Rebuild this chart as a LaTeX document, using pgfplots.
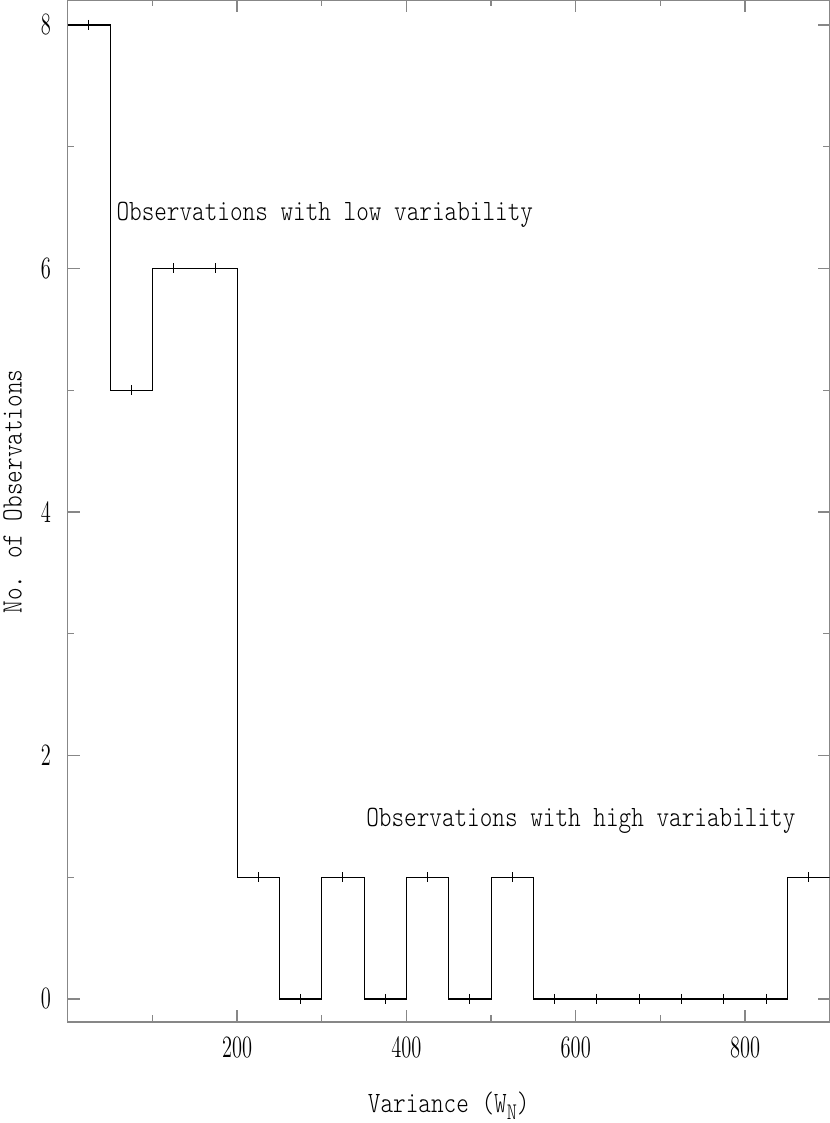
\documentclass[border=0pt]{standalone}
\usepackage{fontspec}
\usepackage{pgfplots}
\pgfplotsset{compat=1.18}
\setmainfont{Latin Modern Mono Light}[FakeStretch=0.815]
\newfontfamily\tickfont{Latin Modern Roman}[FakeStretch=0.66]
\definecolor{framegray}{RGB}{135,135,135}

\newcommand\lblfont{\fontsize{11.8}{13}\selectfont}

\begin{document}
\begin{tikzpicture}
\begin{axis}[
  scale only axis,
  width=304.8pt, height=408.8pt,
  xmin=0, xmax=900,
  ymin=-0.189, ymax=8.205,
  xtick={200,400,600,800},
  minor xtick={100,300,500,700},
  ytick={0,2,4,6,8},
  minor ytick={1,3,5,7},
  tick align=inside,
  major tick length=4.8pt,
  minor tick length=2.6pt,
  tick style={draw=framegray, line width=0.5pt},
  axis line style={draw=framegray, line width=0.6pt},
  /pgf/number format/assume math mode=true,
  tick label style={font=\fontsize{12.4}{13}\tickfont},
  yticklabel style={xshift=-3.2pt},
  xticklabel style={yshift=-2.4pt},
  xlabel={Variance (W\raisebox{-3pt}{\fontsize{9.5}{10}\selectfont N})},
  ylabel={No. of Observations},
  label style={font=\lblfont},
  xlabel style={at={(axis description cs:0.5,-0.0881)}, anchor=base},
  ylabel style={at={(axis description cs:-0.0604,0.519)}, anchor=base},
]
% histogram, bin width 50
\addplot[const plot, black, line width=0.45pt] coordinates {
  (0,8) (50,5) (100,6) (150,6) (200,1) (250,0) (300,1) (350,0)
  (400,1) (450,0) (500,1) (550,0) (600,0) (650,0) (700,0) (750,0)
  (800,0) (850,1) (900,1)
};
% bin-centre marks
\addplot[only marks, mark=|, mark size=2pt, black,
  mark options={line width=0.45pt}] coordinates {
  (25,8) (75,5) (125,6) (175,6) (225,1) (275,0) (325,1) (375,0)
  (425,1) (475,0) (525,1) (575,0) (625,0) (675,0) (725,0) (775,0)
  (825,0) (875,1)
};
\node[anchor=base west, inner sep=0, font=\lblfont]
  at (axis cs:57,6.39) {Observations with low variability};
\node[anchor=base west, inner sep=0, font=\lblfont]
  at (axis cs:352,1.413) {Observations with high variability};
\coordinate (ll) at (rel axis cs:0,0);
\coordinate (ur) at (rel axis cs:1,1);
\end{axis}
\pgfresetboundingbox
\path (ll) ++(-27.1pt,-40.4pt) rectangle (ur);
\end{tikzpicture}
\end{document}
